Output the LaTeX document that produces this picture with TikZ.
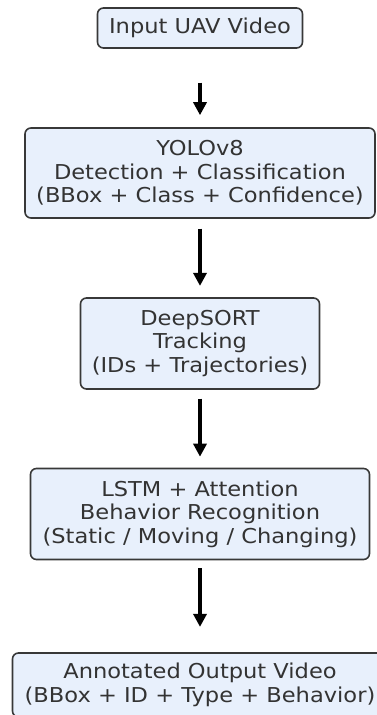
\documentclass[tikz,border=0pt]{standalone}
\usepackage{fontspec}
\setmainfont{DejaVu Sans}[FakeStretch=1.1]
\usetikzlibrary{arrows.meta}
\definecolor{boxfill}{HTML}{E8F0FC}
\definecolor{boxline}{HTML}{383838}
\definecolor{txt}{HTML}{333333}
\tikzset{
  stagebox/.style={draw=boxline, fill=boxfill, line width=1.6pt, rounded corners=6pt,
    inner sep=0pt, align=center, text=txt, font=\fontsize{20.5}{23.5}\selectfont},
  flowarrow/.style={line width=3.5pt, -{Triangle[length=13pt,width=13pt]}, black}
}
\begin{document}
\begin{tikzpicture}[x=1pt,y=-1pt]
\useasboundingbox (0,0) rectangle (377,715);
\clip (0,0) rectangle (377,715);
\node[stagebox, minimum width=205pt, minimum height=40pt] (b1) at (200,28) {Input UAV Video};
\node[stagebox, minimum width=350pt, minimum height=90pt] (b2) at (200,173) {YOLOv8\\Detection + Classification\\(BBox + Class + Confidence)};
\node[stagebox, minimum width=239pt, minimum height=91pt] (b3) at (200,343.5) {DeepSORT\\Tracking\\(IDs + Trajectories)};
\node[stagebox, minimum width=339pt, minimum height=91pt] (b4) at (200,514) {LSTM + Attention\\Behavior Recognition\\(Static / Moving / Changing)};
\node[stagebox, minimum width=375pt, minimum height=64pt] (b5) at (200,685) {Annotated Output Video\\(BBox + ID + Type + Behavior)};
\draw[flowarrow, shorten <=33.7pt, shorten >=12pt] (b1.south) -- (b2.north);
\draw[flowarrow, shorten <=9.7pt, shorten >=11.3pt] (b2.south) -- (b3.north);
\draw[flowarrow, shorten <=8.7pt, shorten >=11pt] (b3.south) -- (b4.north);
\draw[flowarrow, shorten <=8pt, shorten >=25.3pt] (b4.south) -- (b5.north);
\end{tikzpicture}
\end{document}
